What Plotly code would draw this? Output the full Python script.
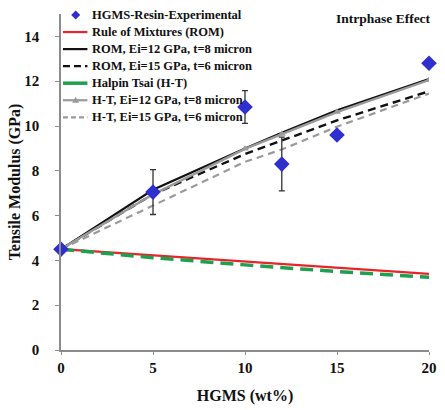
import plotly.graph_objects as go

# HGMS loading (wt%)
wt = [0, 5, 10, 12, 15, 20]

# Measured tensile modulus (GPa) with error bars
exp_modulus = [4.5, 7.05, 10.85, 8.3, 9.6, 12.8]
exp_error = [0, 1.0, 0.73, 1.2, 0, 0]

# Model predictions (GPa)
rom = [4.5, 4.22, 3.95, 3.84, 3.67, 3.4]
rom_ei12 = [4.5, 7.15, 9.0, 9.7, 10.7, 12.1]
rom_ei15 = [4.5, 6.95, 8.75, 9.35, 10.25, 11.55]
halpin_tsai = [4.5, 4.12, 3.8, 3.68, 3.5, 3.25]
ht_ei12 = [4.5, 6.95, 8.98, 9.64, 10.62, 12.05]
ht_ei15 = [4.5, 6.45, 8.4, 8.95, 9.97, 11.45]

x_ticks = [0, 5, 10, 15, 20]
y_ticks = [0, 2, 4, 6, 8, 10, 12, 14]

SERIF = "Liberation Serif"
BLUE = "#2f2fd0"
RED = "#e8242a"
GREEN = "#1ea04e"
GRAY = "#9a9a9a"
BLACK = "#111111"

W, H = 445, 410
ML, MR, MT, MB = 61, 8, 14, 59

fig = go.Figure()

fig.add_trace(go.Scatter(x=wt, y=rom, mode="lines", name="Rule of Mixtures (ROM)",
                         line=dict(color=RED, width=2.2)))
fig.add_trace(go.Scatter(x=wt, y=halpin_tsai, mode="lines", name="Halpin Tsai (H-T)",
                         line=dict(color=GREEN, width=3.5, dash="13px,7px")))
fig.add_trace(go.Scatter(x=wt, y=rom_ei12, mode="lines", name="ROM, Ei=12 GPa, t=8 micron",
                         line=dict(color=BLACK, width=2.2)))
fig.add_trace(go.Scatter(x=wt, y=rom_ei15, mode="lines", name="ROM, Ei=15 GPa, t=6 micron",
                         line=dict(color=BLACK, width=2.4, dash="8px,5px")))
fig.add_trace(go.Scatter(x=wt, y=ht_ei12, mode="lines+markers", name="H-T, Ei=12 GPa, t=8 micron",
                         line=dict(color=GRAY, width=2.4),
                         marker=dict(symbol="triangle-up", size=7, color=GRAY)))
fig.add_trace(go.Scatter(x=wt, y=ht_ei15, mode="lines", name="H-T, Ei=15 GPa, t=6 micron",
                         line=dict(color=GRAY, width=2.2, dash="7px,5px")))
fig.add_trace(go.Scatter(x=wt, y=exp_modulus, mode="markers", name="HGMS-Resin-Experimental",
                         marker=dict(symbol="diamond", size=12, color=BLUE),
                         error_y=dict(type="data", array=exp_error, visible=True,
                                      color="#333333", thickness=1.3, width=3),
                         cliponaxis=False))

for tr in fig.data:
    tr.showlegend = False

# Hand-placed key in the upper-left corner of the plotting area
pw, ph = W - ML - MR, H - MT - MB


def px(xp):
    return (xp - ML) / pw


def py(yp):
    return (H - MB - yp) / ph


legend_rows = [
    ("HGMS-Resin-Experimental", "diamond"),
    ("Rule of Mixtures (ROM)", dict(color=RED, width=2.2, dash="solid")),
    ("ROM, Ei=12 GPa, t=8 micron", dict(color=BLACK, width=2.2, dash="solid")),
    ("ROM, Ei=15 GPa, t=6 micron", dict(color=BLACK, width=2.4, dash="7px,4px")),
    ("Halpin Tsai (H-T)", dict(color=GREEN, width=3.5, dash="solid")),
    ("H-T, Ei=12 GPa, t=8 micron", "triangle"),
    ("H-T, Ei=15 GPa, t=6 micron", dict(color=GRAY, width=2.2, dash="5px,3px")),
]
row_y0, row_step = 15, 17.1
x_sym0, x_sym1, x_text = 63, 88, 91

shapes = []
annotations = []
for i, (label, style) in enumerate(legend_rows):
    yp = row_y0 + i * row_step
    if style == "diamond":
        shapes.append(dict(type="path", xref="paper", yref="paper",
                           xsizemode="pixel", ysizemode="pixel",
                           xanchor=px(76), yanchor=py(yp),
                           path="M 0 4.5 L 4.5 0 L 0 -4.5 L -4.5 0 Z",
                           fillcolor=BLUE, line=dict(width=0)))
    elif style == "triangle":
        shapes.append(dict(type="line", xref="paper", yref="paper",
                           x0=px(x_sym0), x1=px(x_sym1), y0=py(yp), y1=py(yp),
                           line=dict(color=GRAY, width=2.2)))
        shapes.append(dict(type="path", xref="paper", yref="paper",
                           xsizemode="pixel", ysizemode="pixel",
                           xanchor=px(76), yanchor=py(yp),
                           path="M -3.5 -2.5 L 3.5 -2.5 L 0 3.5 Z",
                           fillcolor=GRAY, line=dict(width=0)))
    else:
        shapes.append(dict(type="line", xref="paper", yref="paper",
                           x0=px(x_sym0), x1=px(x_sym1), y0=py(yp), y1=py(yp),
                           line=style))
    annotations.append(dict(text=label, xref="paper", yref="paper",
                            x=px(x_text), y=py(yp), xanchor="left", yanchor="middle",
                            showarrow=False,
                            font=dict(family=SERIF, size=12.5, color="#111111", weight="bold")))

annotations.append(dict(text="Intrphase Effect", xref="paper", yref="paper",
                        x=px(441), y=py(19), xanchor="right", yanchor="middle",
                        showarrow=False,
                        font=dict(family=SERIF, size=13.5, color="#111111", weight="bold")))

axis_font = dict(family=SERIF, size=15, color="#111111", weight="bold")
title_font = dict(family=SERIF, size=16, color="#111111", weight="bold")

fig.update_layout(
    width=W, height=H,
    margin=dict(l=ML, r=MR, t=MT, b=MB),
    paper_bgcolor="white", plot_bgcolor="white",
    showlegend=False,
    shapes=shapes,
    annotations=annotations,
    xaxis=dict(range=[0, 20], tickvals=x_ticks, ticktext=[str(v) for v in x_ticks],
               showgrid=False, zeroline=False, showline=True, linecolor="#8c8c8c",
               linewidth=1.5, ticks="outside", ticklen=3, tickcolor="#8c8c8c",
               tickfont=axis_font,
               title=dict(text="HGMS (wt%)", font=title_font, standoff=15)),
    yaxis=dict(range=[0, 15], tickvals=y_ticks, ticktext=[str(v) for v in y_ticks],
               showgrid=False, zeroline=False, showline=True, linecolor="#8c8c8c",
               linewidth=1.5, ticks="outside", ticklen=4, tickcolor="#8c8c8c",
               tickfont=axis_font, ticklabelstandoff=13,
               title=dict(text="Tensile Modulus (GPa)", font=title_font, standoff=0)),
)

fig.write_html("out.html")
